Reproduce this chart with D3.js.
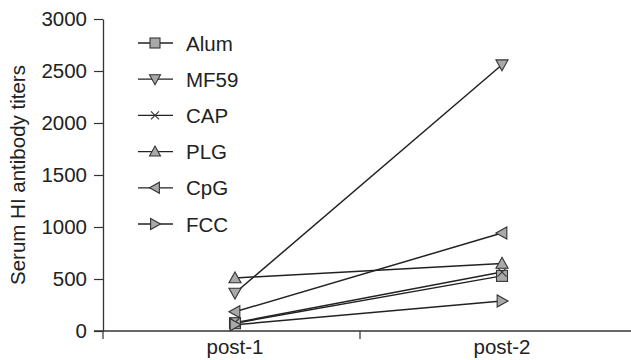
<!DOCTYPE html>
<html><head><meta charset="utf-8">
<script src="https://cdn.jsdelivr.net/npm/d3@7"></script>
<style>body{margin:0;background:#fff}svg{display:block}text{font-family:"Liberation Sans",Arial,sans-serif;fill:#222}</style>
</head><body><svg id="c" width="631" height="360"></svg>
<script>
const categories = ["post-1", "post-2"];
const seriesNames = ["Alum", "MF59", "CAP", "PLG", "CpG", "FCC"];
const alum = [75, 530];
const mf59 = [365, 2560];
const cap = [80, 567];
const plg = [510, 650];
const cpg = [185, 942];
const fcc = [60, 288];
const yTicks = [0, 500, 1000, 1500, 2000, 2500, 3000];
const seriesValues = [alum, mf59, cap, plg, cpg, fcc];
const markers = ["square", "down", "x", "up", "left", "right"];

const FS = 20.5;
const svg = d3.select("#c");
const axL = 103, axR = 631, axT = 19, axB = 331;
const y = d3.scaleLinear().domain([0, 3000]).range([axB, axT]);
const x = d3.scalePoint().domain(categories).range([235, 502]);
const tickX = [axL, 360];

function markerPath(g, type, s) {
  const h = s / 2;
  if (type === "square") g.append("rect").attr("x", -h).attr("y", -h).attr("width", s).attr("height", s);
  else if (type === "x") {
    g.append("path").attr("d", `M${-h+1},${-h+1}L${h-1},${h-1}M${-h+1},${h-1}L${h-1},${-h+1}`).attr("fill", "none");
  } else {
    const t = h * 1.1;
    let pts;
    if (type === "up") pts = [[0,-t],[t,t*0.8],[-t,t*0.8]];
    if (type === "down") pts = [[0,t],[t,-t*0.8],[-t,-t*0.8]];
    if (type === "left") pts = [[-t,0],[t*0.8,-t],[t*0.8,t]];
    if (type === "right") pts = [[t,0],[-t*0.8,-t],[-t*0.8,t]];
    g.append("path").attr("d", "M" + pts.map(p => p.join(",")).join("L") + "Z");
  }
}
function styleMarker(g) {
  g.selectAll("rect,path").attr("fill", function(){ return d3.select(this).attr("fill") === "none" ? "none" : "#a9a9a9"; })
    .attr("stroke", "#333").attr("stroke-width", 1.1);
}

// y axis
const yAxis = d3.axisLeft(y).tickValues(yTicks).tickFormat(d3.format("d")).tickSize(9).tickPadding(7).tickSizeOuter(0);
const gy = svg.append("g").attr("transform", `translate(${axL},0)`).call(yAxis);
gy.select(".domain").attr("stroke", "#333").attr("stroke-width", 1.3);
gy.selectAll(".tick line").attr("stroke", "#333").attr("stroke-width", 1.2);
gy.selectAll(".tick text").attr("font-size", FS).attr("fill", "#222").attr("font-family", "Liberation Sans, Arial, sans-serif");

// x axis
svg.append("line").attr("x1", axL - 9).attr("x2", axR).attr("y1", axB).attr("y2", axB).attr("stroke", "#333").attr("stroke-width", 1.3);
tickX.forEach(tx => svg.append("line").attr("x1", tx).attr("x2", tx).attr("y1", axB).attr("y2", axB + 8).attr("stroke", "#333").attr("stroke-width", 1.2));
categories.forEach(c => svg.append("text").attr("x", x(c)).attr("y", 354).attr("text-anchor", "middle").attr("font-size", FS).text(c));

// y title
svg.append("text").attr("transform", `translate(25,${(axT + axB) / 2}) rotate(-90)`).attr("text-anchor", "middle").attr("font-size", FS).text("Serum HI antibody titers");

// lines
const line = d3.line().x((d, i) => x(categories[i])).y(d => y(d));
seriesValues.forEach(vals => {
  svg.append("path").datum(vals).attr("d", line).attr("fill", "none").attr("stroke", "#222").attr("stroke-width", 1.5);
});
seriesValues.forEach((vals, si) => {
  vals.forEach((v, i) => {
    const g = svg.append("g").attr("transform", `translate(${x(categories[i])},${y(v)})`);
    markerPath(g, markers[si], 11);
    styleMarker(g);
  });
});

// legend
seriesNames.forEach((n, i) => {
  const ly = 43 + i * 36.2;
  svg.append("line").attr("x1", 138).attr("x2", 173).attr("y1", ly).attr("y2", ly).attr("stroke", "#222").attr("stroke-width", 1.3);
  const g = svg.append("g").attr("transform", `translate(155,${ly})`);
  markerPath(g, markers[i], 10);
  styleMarker(g);
  svg.append("text").attr("x", 186).attr("y", ly + 7.5).attr("font-size", FS).text(n);
});
</script></body></html>
